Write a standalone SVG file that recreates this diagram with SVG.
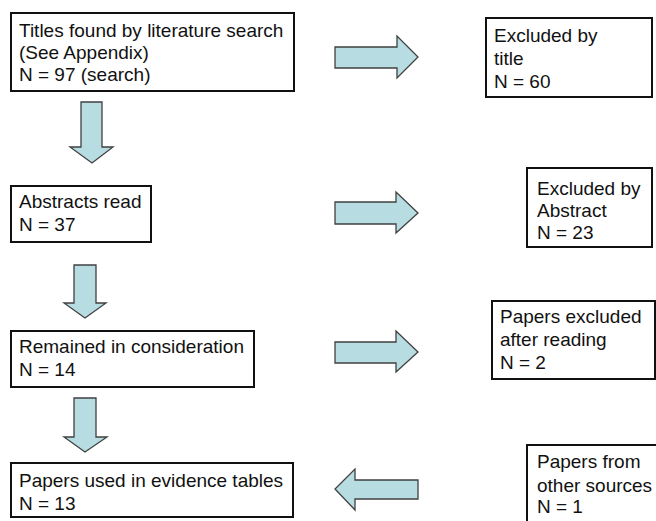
<svg xmlns="http://www.w3.org/2000/svg" width="656" height="521" viewBox="0 0 656 521">
<style>
.box{fill:#fff;stroke:#111;stroke-width:2}
.arr{fill:#b7dde3;stroke:#404040;stroke-width:1.3;stroke-linejoin:miter}
text{font-family:"Liberation Sans",Arial,sans-serif;font-size:19px;fill:#111}
</style>
<rect width="656" height="521" fill="#fff"/>
<g id="connectors">
<polygon class="arr" points="81,102 102,102 102,147 113,147 92,163 70,147 81,147"/>
<polygon class="arr" points="335,47 397,47 397,36 418,57 397,78 397,68 335,68"/>
<polygon class="arr" points="74,265 96,265 96,303 106,303 85,318 64,303 74,303"/>
<polygon class="arr" points="335,202 396,202 396,192 418,213 396,233 396,224 335,224"/>
<polygon class="arr" points="74,398 96,398 96,437 107,437 85,452 64,437 74,437"/>
<polygon class="arr" points="335,342 396,342 396,331 418,352 396,372 396,363 335,363"/>
<polygon class="arr" points="418,480 355,480 355,469 335,489 355,510 355,499 418,499"/>
</g>
<g id="n1"><rect class="box" x="11" y="13" width="283" height="78"/>
<text x="19" y="37">Titles found by literature search</text><text x="19" y="59">(See Appendix)</text><text x="19" y="81">N = 97 (search)</text></g>
<g id="n2"><rect class="box" x="486" y="18" width="166" height="79"/>
<text x="494" y="42">Excluded by</text><text x="494" y="65">title</text><text x="494" y="88">N = 60</text></g>
<g id="n3"><rect class="box" x="11" y="186" width="140" height="56"/>
<text x="19" y="208">Abstracts read</text><text x="19" y="231">N = 37</text></g>
<g id="n4"><rect class="box" x="527" y="168" width="125" height="79"/>
<text x="537" y="195">Excluded by</text><text x="537" y="217">Abstract</text><text x="537" y="239">N = 23</text></g>
<g id="n5"><rect class="box" x="11" y="331" width="243" height="56"/>
<text x="19" y="353">Remained in consideration</text><text x="19" y="376">N = 14</text></g>
<g id="n6"><rect class="box" x="492" y="301" width="163" height="78"/>
<text x="500" y="323">Papers excluded</text><text x="500" y="346">after reading</text><text x="500" y="369">N = 2</text></g>
<g id="n7"><rect class="box" x="11" y="463" width="282" height="54"/>
<text x="19" y="487">Papers used in evidence tables</text><text x="19" y="510">N = 13</text></g>
<g id="n8"><rect class="box" x="527" y="445" width="140" height="90"/>
<text x="537" y="468">Papers from</text><text x="537" y="492">other sources</text><text x="537" y="513">N = 1</text></g>
</svg>
